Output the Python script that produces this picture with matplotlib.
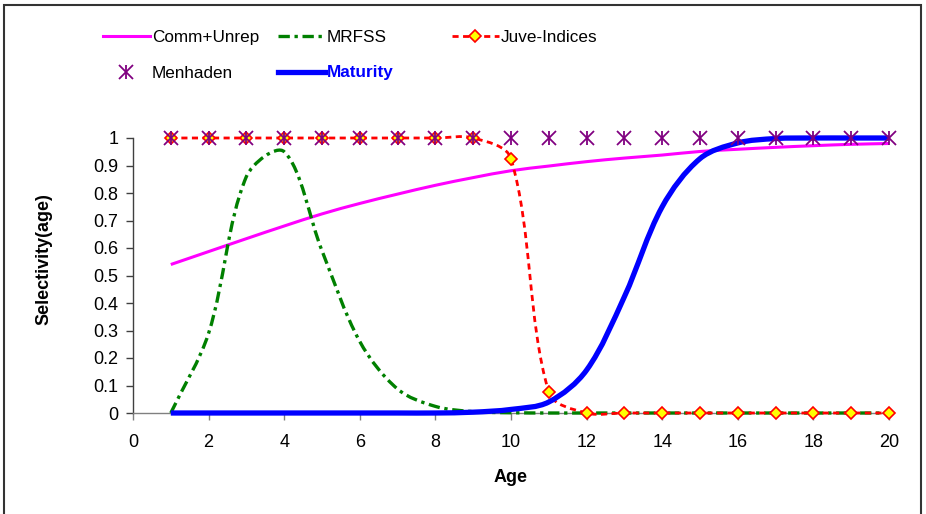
import numpy as np
import matplotlib
matplotlib.use("Agg")
import matplotlib.pyplot as plt
from matplotlib.path import Path
from matplotlib.patches import PathPatch, Rectangle
from matplotlib.lines import Line2D

plt.rcParams['font.family'] = ['Liberation Sans', 'DejaVu Sans']

# ---- data ----
ages = list(range(1, 21))
comm_unrep = [0.54, 0.587, 0.634, 0.68, 0.724, 0.762, 0.796, 0.828, 0.856, 0.881,
              0.898, 0.914, 0.927, 0.938, 0.951, 0.959, 0.966, 0.972, 0.977, 0.98]
mrfss = [0.0, 0.29, 0.86, 0.95, 0.59, 0.26, 0.087, 0.024, 0.005, 0.001,
         0.0, 0.0, 0.0, 0.0, 0.0, 0.0, 0.0, 0.0, 0.0, 0.0]
juve_indices = [1, 1, 1, 1, 1, 1, 1, 1, 1, 0.925, 0.075,
                0, 0, 0, 0, 0, 0, 0, 0, 0]
menhaden = [1] * 20
maturity = [0.0, 0.0, 0.0, 0.0, 0.0, 0.0, 0.0, 0.0, 0.003, 0.013, 0.04, 0.156,
            0.423, 0.75, 0.925, 0.982, 0.998, 1.0, 1.0, 1.0]
series_names = ['Comm+Unrep', 'MRFSS', 'Juve-Indices', 'Menhaden', 'Maturity']
xticks = list(range(0, 21, 2))
yticks = [0, 0.1, 0.2, 0.3, 0.4, 0.5, 0.6, 0.7, 0.8, 0.9, 1]
ytick_labels = ['0', '0.1', '0.2', '0.3', '0.4', '0.5', '0.6', '0.7', '0.8', '0.9', '1']

W, H = 926, 514
fig = plt.figure(figsize=(W / 100, H / 100), dpi=100)
ax = fig.add_axes([133 / W, 1 - 413 / H, 756 / W, 275 / H])
ax.set_xlim(0, 20)
ax.set_ylim(0, 1)


def smooth_path(xs, ys, axis):
    """Spreadsheet-style smoothed line: Bezier through the data points,
    tangents weighted by on-screen segment lengths."""
    pts = np.column_stack([xs, ys]).astype(float)
    disp = axis.transData.transform(pts)
    n = len(pts)
    d = np.hypot(*np.diff(disp, axis=0).T)
    verts = [tuple(pts[0])]
    codes = [Path.MOVETO]
    for i in range(n - 1):
        p1, p2 = pts[i], pts[i + 1]
        if i > 0:
            t1 = pts[i + 1] - pts[i - 1]
            f1 = d[i] / (d[i - 1] + d[i]) / 3.0
        else:
            t1 = pts[i + 1] - pts[i]
            f1 = 1 / 3.0
        if i + 2 < n:
            t2 = pts[i + 2] - pts[i]
            f2 = d[i] / (d[i] + d[i + 1]) / 3.0
        else:
            t2 = pts[i + 1] - pts[i]
            f2 = 1 / 3.0
        c1 = p1 + t1 * f1
        c2 = p2 - t2 * f2
        verts += [tuple(c1), tuple(c2), tuple(p2)]
        codes += [Path.CURVE4] * 3
    return Path(verts, codes)


# styles
comm_style = dict(color='#FF00FF', lw=2.2, ls='-')
mrfss_style = dict(color='#008000', lw=2.4, ls=(0, (3.4, 1.4, 1.0, 1.4)))
juve_style = dict(color='#FF0000', lw=2.0, ls=(0, (2.2, 1.6)))
mat_style = dict(color='#0000FF', lw=3.8, ls='-')

for ys, st, z in [(comm_unrep, comm_style, 2), (mrfss, mrfss_style, 3),
                  (juve_indices, juve_style, 4), (maturity, mat_style, 5)]:
    pp = PathPatch(smooth_path(ages, ys, ax), facecolor='none', edgecolor=st['color'],
                   linewidth=st['lw'], linestyle=st['ls'], zorder=z,
                   capstyle='butt', clip_on=False)
    ax.add_patch(pp)

ax.plot(ages, juve_indices, ls='none', marker='D', ms=6.5, mfc='#FFFF00',
        mec='#FF0000', mew=1.2, zorder=6, clip_on=False)
ax.plot(ages, menhaden, ls='none', marker='x', ms=9.5, mec='#800080',
        mew=1.3, zorder=7, clip_on=False)
ax.plot(ages, menhaden, ls='none', marker='|', ms=9.5, mec='#800080',
        mew=1.3, zorder=7, clip_on=False)

ax.set_xticks(xticks)
ax.set_xticklabels([str(t) for t in xticks])
ax.set_yticks(yticks)
ax.set_yticklabels(ytick_labels)
ax.tick_params(axis='both', direction='out', length=4.8, width=1.0,
               labelsize=13, colors='#000000')
ax.tick_params(axis='y', pad=5.8, color='#404040')
ax.tick_params(axis='x', pad=10.5, color='#808080')
for s in ['top', 'right']:
    ax.spines[s].set_visible(False)
ax.spines['left'].set_color('#404040')
ax.spines['bottom'].set_color('#808080')
ax.spines['left'].set_linewidth(1.0)
ax.spines['bottom'].set_linewidth(1.0)
ax.set_facecolor('none')

ax.set_xlabel('Age', fontsize=13, fontweight='bold')
ax.set_ylabel('Selectivity(age)', fontsize=13, fontweight='bold')
ax.xaxis.set_label_coords(0.5, -0.205)
ax.yaxis.set_label_coords(-0.106, 0.56)

# legend
h_comm = Line2D([], [], color=comm_style['color'], lw=comm_style['lw'])
h_mrfss = Line2D([], [], color=mrfss_style['color'], lw=mrfss_style['lw'],
                 ls=mrfss_style['ls'])
h_juve = Line2D([], [], color=juve_style['color'], lw=juve_style['lw'],
                ls=juve_style['ls'], marker='D', ms=6.5, mfc='#FFFF00',
                mec='#FF0000', mew=1.2)
h_men = (Line2D([], [], ls='none', marker='x', ms=9.5, mec='#800080', mew=1.3),
         Line2D([], [], ls='none', marker='|', ms=9.5, mec='#800080', mew=1.3))
h_mat = Line2D([], [], color=mat_style['color'], lw=mat_style['lw'])

leg_kw = dict(frameon=False, fontsize=12.3, handlelength=2.75, handletextpad=0.12,
              borderpad=0, borderaxespad=0, labelspacing=1.2, numpoints=1,
              loc='upper left')
cols = [([h_comm, h_men], [series_names[0], series_names[3]], 103),
        ([h_mrfss, h_mat], [series_names[1], series_names[4]], 278),
        ([h_juve], [series_names[2]], 452)]
legs = []
for hs, ls, xpx in cols:
    lg = fig.legend(hs, ls, bbox_to_anchor=(xpx / W, 1 - 30 / H), **leg_kw)
    legs.append(lg)
for t in legs[1].get_texts():
    if t.get_text() == 'Maturity':
        t.set_color('#0000FF')
        t.set_fontweight('bold')

# outer border
fig.patches.append(Rectangle((4 / W, -0.02), 917 / W, 1 - 5 / H + 0.02,
                             transform=fig.transFigure, fill=False,
                             edgecolor='#333333', linewidth=1.5))

fig.savefig('out.png', dpi=100)
